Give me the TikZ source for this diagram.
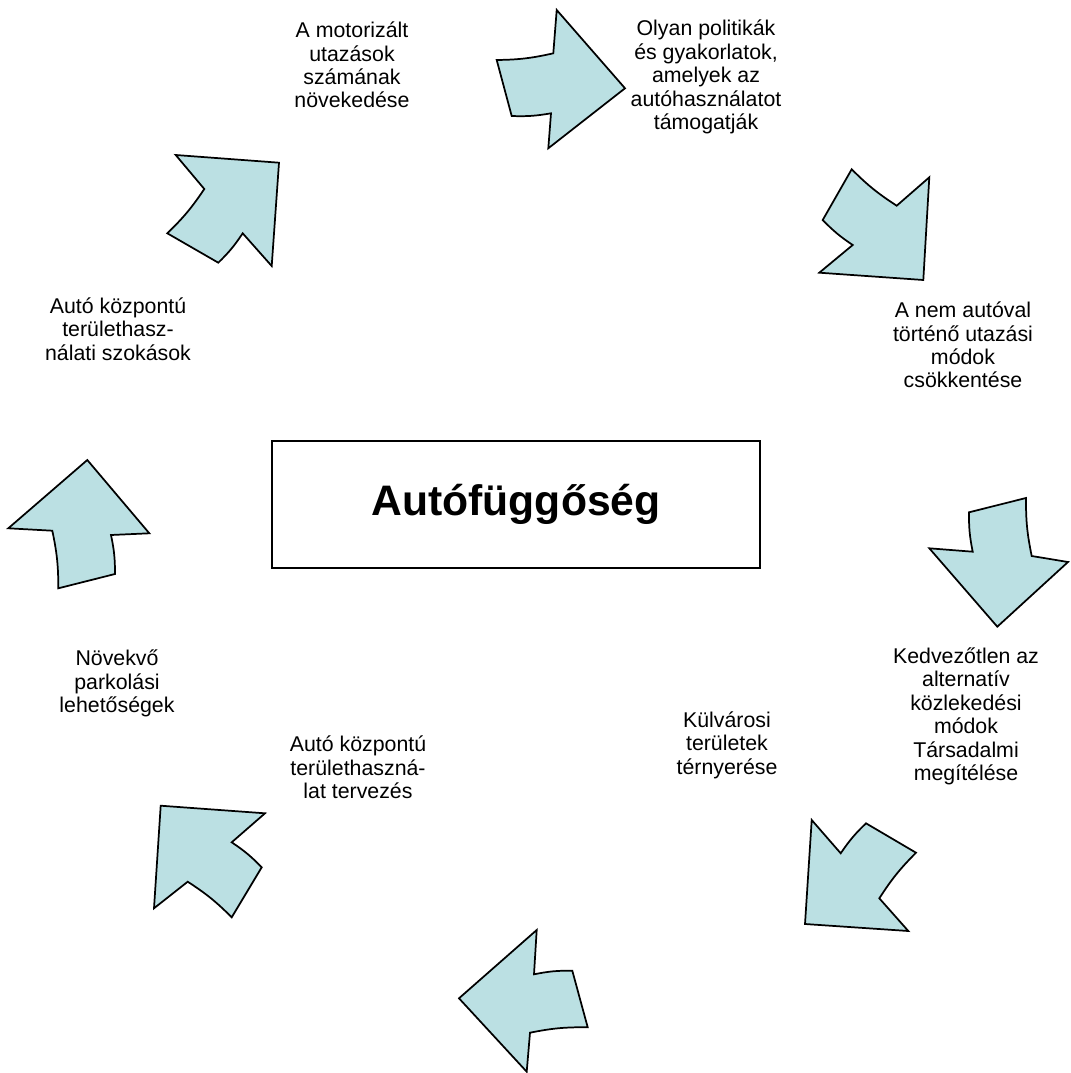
\documentclass[tikz,border=0pt]{standalone}
\usepackage{fontspec}
\setmainfont{Liberation Sans}
\begin{document}
\begin{tikzpicture}[x=0.75pt,y=-0.75pt,
  arrowshape/.style={fill=arrowfill,draw=black,line width=1.3pt,line join=miter},
  label/.style={align=center,inner sep=0pt,font=\fontsize{16}{17.6}\selectfont},
  bd/.style={bend right=6}, bc/.style={bend left=6}]
\definecolor{arrowfill}{HTML}{BBE0E3}
\useasboundingbox (0,0) rectangle (1070,1073);
% arrow 1 (top)
\draw[arrowshape] (496.7,60) to[bd] (553.3,53.3) -- (556.7,10) -- (625,88.3) -- (548.3,148.3) -- (551,113.3) to[bc] (511.7,116) -- cycle;
% arrow 2 (upper right)
\draw[arrowshape] (851.7,169.3) to[bd] (896.7,205.7) -- (929.3,177.3) -- (923.3,280) -- (819.3,272.7) -- (852.7,245) to[bc] (822.7,220) -- cycle;
% arrow 3 (right)
\draw[arrowshape] (969,512.3) to[bd] (972.7,551.7) -- (929.3,548.3) -- (997.3,626.7) -- (1068,562) -- (1031.7,556) to[bc] (1026,498) -- cycle;
% arrow 4 (lower right)
\draw[arrowshape] (811.7,820) -- (840.7,853.3) to[bc] (866,823.3) -- (916,852.7) to[bd] (879.3,898.3) -- (908.3,931) -- (805,924) -- cycle;
% arrow 5 (bottom)
\draw[arrowshape] (536.7,930) -- (534,974.3) to[bc] (572.3,970.7) -- (587.7,1027.3) to[bd] (530,1032.7) -- (526.7,1071.7) -- (459,998.3) -- cycle;
% arrow 6 (lower left)
\draw[arrowshape] (160.7,805.7) -- (265,813.3) -- (231.7,842.3) to[bc] (261.7,867.3) -- (231.7,917.3) to[bd] (187.7,881.7) -- (154,908.3) -- cycle;
% arrow 7 (left)
\draw[arrowshape] (87.3,460) -- (149.3,533.3) -- (111,535) to[bc] (115,574) -- (58.3,588.3) to[bd] (52.3,530.7) -- (8.3,528.3) -- cycle;
% arrow 8 (upper left)
\draw[arrowshape] (175.7,155) -- (279,162.7) -- (271.7,266) -- (242.7,233.3) to[bc] (218.3,262.7) -- (167.3,233.3) to[bd] (204.3,189) -- cycle;
% centre
\node[draw=black,line width=0.8pt,minimum width=366pt,minimum height=95.25pt,inner sep=0pt,font=\bfseries\fontsize{32}{36}\selectfont] (center) at (516,504.5) {Autófüggőség};
% labels
\node[label] (t1) at (352,65) {A motorizált\\utazások\\számának\\növekedése};
\node[label] (t2) at (706,77) {Olyan politikák\\és gyakorlatok,\\amelyek az\\autóhasználatot\\támogatják};
\node[label] (t3) at (963,345) {A nem autóval\\történő utazási\\módok\\csökkentése};
\node[label] (t4) at (966,716.5) {Kedvezőtlen az\\alternatív\\közlekedési\\módok\\Társadalmi\\megítélése};
\node[label] (t5) at (727,745) {Külvárosi\\területek\\térnyerése};
\node[label] (t6) at (358,767.5) {Autó központú\\területhaszná-\\lat tervezés};
\node[label] (t7) at (117,683.5) {Növekvő\\parkolási\\lehetőségek};
\node[label] (t8) at (118,329) {Autó központú\\területhasz-\\nálati szokások};
\end{tikzpicture}
\end{document}
